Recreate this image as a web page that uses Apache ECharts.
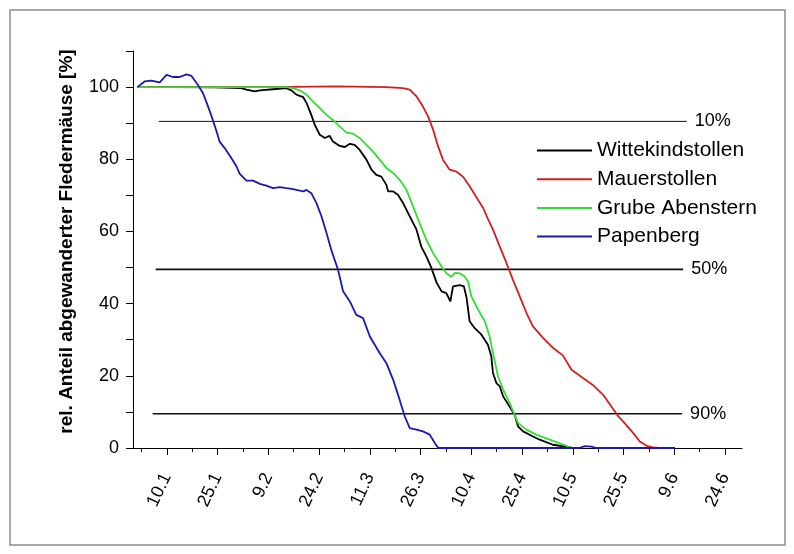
<!DOCTYPE html>
<html>
<head>
<meta charset="utf-8">
<script src="https://cdn.jsdelivr.net/npm/echarts@6/dist/echarts.min.js"></script>
<style>
html,body{margin:0;padding:0;background:#fff;}
#chart{width:794px;height:554px;}
</style>
</head>
<body>
<div id="chart"></div>
<script>
// ---- data (x = day of year, 10 = 10 January) ----
const tickDays = [10, 25, 40, 55, 70, 85, 100, 115, 130, 145, 160, 175];
const tickLabels = ['10.1', '25.1', '9.2', '24.2', '11.3', '26.3', '10.4', '25.4', '10.5', '25.5', '9.6', '24.6'];
const minorTickDays = [2.5, 17.5, 32.5, 47.5, 62.5, 77.5, 92.5, 107.5, 122.5, 137.5, 152.5, 167.5];

const seriesNames = ['Wittekindstollen', 'Mauerstollen', 'Grube Abenstern', 'Papenberg'];

const wittekindstollen = [
  [1.3,100],[12,100],[24,99.9],[32.0,99.7],[33.5,99.3],[36.0,98.8],[37.5,99.1],[41.4,99.4],[45.3,99.7],
  [46.8,99.1],[48.3,97.9],[50.3,97.2],[51.3,95.6],[52.7,92.3],[53.7,89.6],[55.2,86.8],[56.7,85.9],
  [58.1,86.5],[59.1,84.9],[61.1,83.7],[62.6,83.4],[64.1,84.3],[65.5,84.0],[67.0,82.6],[69.0,79.9],
  [70.5,77.1],[71.9,75.7],[73.4,75.2],[74.9,72.9],[75.4,71.1],[76.9,71.1],[78.3,70.2],[79.8,67.9],
  [81.8,64.2],[83.8,60.5],[85.2,55.8],[86.7,53.1],[88.2,49.9],[89.7,45.9],[91.2,43.4],[92.6,42.9],
  [93.8,40.6],[94.6,44.8],[96.6,45.1],[97.8,44.8],[98.6,41.6],[99.5,35.1],[101.0,33.2],[103.0,31.4],
  [104.9,28.6],[105.9,25.4],[106.4,20.8],[107.4,18.0],[108.4,17.1],[109.4,14.3],[111.3,11.5],
  [112.8,9.2],[113.8,6.0],[115.3,4.6],[118.2,3.2],[120.2,2.3],[124.1,0.9],[128.1,0.3],[130,0]
];

const mauerstollen = [
  [1.3,100],[20,100],[40,100],[60,100.2],[75,100],[79.8,99.7],[81.8,99.3],[83.8,97.4],[85.7,94.6],
  [87.2,91.9],[88.7,88.2],[90.2,83.5],[91.6,79.9],[93.6,77.1],[95.6,76.6],[97.5,75.2],[99.5,72.5],
  [101.5,69.5],[103.5,66.5],[104.9,63.5],[106.4,60.5],[108.4,55.8],[110.4,51.2],[112.3,46.6],
  [114.3,42.0],[116.3,37.4],[118.2,33.7],[121.2,30.5],[124.2,27.7],[127.1,25.6],[129.6,21.7],
  [133.0,19.4],[136.0,17.4],[138.9,14.8],[141.4,11.5],[143.4,8.8],[145.3,6.9],[147.8,4.2],
  [149.8,1.8],[151.8,0.6],[153.7,0.2],[155.7,0]
];

const grubeAbenstern = [
  [1.3,100],[15,100],[30,100],[45.3,100],[47.3,99.7],[49.3,99.1],[51.3,97.9],[53.2,96.0],[55.2,94.2],
  [57.2,92.3],[59.1,90.9],[61.1,89.1],[63.1,87.4],[65.0,87.1],[67.0,85.9],[69.0,84.0],[70.9,82.2],
  [72.9,79.9],[74.9,77.6],[76.9,76.2],[78.8,74.3],[80.8,71.6],[82.8,66.9],[84.7,62.3],[86.7,57.7],
  [88.7,54.0],[91.2,50.3],[92.6,48.5],[94.1,47.4],[95.1,48.5],[96.6,48.4],[98.0,47.5],[99.0,46.2],
  [100.0,42.0],[102.0,38.3],[104.0,35.1],[105.4,30.9],[106.4,26.3],[107.9,19.8],[109.4,16.2],
  [111.3,12.5],[112.8,9.2],[113.8,6.9],[116.3,5.1],[119.2,3.7],[123.2,2.3],[128.1,0.6],[129.1,0]
];

const papenberg = [
  [1.3,100],[3.5,101.6],[5.4,101.8],[7.9,101.3],[9.9,103.4],[11.8,102.8],[13.8,102.8],[15.8,103.5],
  [17.3,103.1],[19.2,100.6],[20.7,98.3],[22.2,94.6],[23.6,90.9],[24.7,87.7],[25.6,84.9],[27.1,83.1],
  [29.1,80.3],[30.6,78.0],[31.5,76.0],[33.5,74.1],[35.5,74.1],[37.5,73.2],[39.4,72.7],[41.4,72.0],
  [43.4,72.3],[45.3,72.0],[47.3,71.7],[50.3,71.1],[51.3,71.5],[52.7,70.6],[54.2,67.9],[55.7,64.2],
  [57.2,59.6],[58.6,54.9],[60.6,49.4],[62.1,43.4],[64.1,40.6],[66.0,36.9],[68.0,36.0],[70.0,30.9],
  [72.9,26.3],[74.9,23.5],[76.9,18.9],[78.8,13.4],[80.3,8.8],[81.8,5.5],[83.8,5.1],[85.7,4.6],
  [87.7,3.7],[89.2,1.4],[90.2,0],[132,0],[133.5,0.5],[135.5,0.4],[137,0],[160.2,0]
];

// horizontal reference lines (10 %, 50 %, 90 % migrated)
const refLevels = [90.5, 49.5, 9.5];
const refLabels = ['10%', '50%', '90%'];
const refStart = [7.6, 6.7, 5.8];
const refEnd = [163.7, 162.6, 162.3];

// ---- chart ----
const FONT = "'Liberation Sans', Arial, sans-serif";
const seriesData = [wittekindstollen, mauerstollen, grubeAbenstern, papenberg];
const seriesColors = ['#000000', '#d02020', '#33dd33', '#1a1aaa'];
const refWidths = [1, 1.8, 1.4];

const series = [];
refLevels.forEach((lvl, i) => {
  series.push({
    type: 'line',
    name: refLabels[i],
    data: [[refStart[i], lvl], [refEnd[i], lvl]],
    symbol: 'none',
    silent: true,
    lineStyle: { color: '#111', width: refWidths[i] },
    endLabel: {
      show: true, formatter: refLabels[i], distance: 8,
      fontSize: 18, color: '#000', fontFamily: FONT
    },
    z: 1
  });
});
seriesNames.forEach((name, i) => {
  series.push({
    type: 'line',
    name: name,
    data: seriesData[i],
    symbol: 'none',
    showSymbol: false,
    lineStyle: { color: seriesColors[i], width: 1.8 },
    itemStyle: { color: seriesColors[i] },
    z: 2 + i
  });
});

const chart = echarts.init(document.getElementById('chart'), null, { renderer: 'canvas' });
chart.setOption({
  animation: false,
  backgroundColor: '#ffffff',
  textStyle: { fontFamily: FONT },
  graphic: [{
    type: 'rect',
    shape: { x: 10, y: 10, width: 775, height: 535 },
    style: { fill: 'none', stroke: '#8c8c8c', lineWidth: 1.5 },
    silent: true
  }],
  grid: { left: 133, right: 52, top: 51, bottom: 106, outerBoundsMode: 'none' },
  legend: {
    data: seriesNames,
    orient: 'vertical',
    left: 537,
    top: 140,
    padding: 0,
    icon: 'rect',
    itemWidth: 55,
    itemHeight: 2,
    itemGap: 7.7,
    textStyle: { fontSize: 21, color: '#000', fontFamily: FONT },
    selectedMode: false
  },
  xAxis: [{
    type: 'value',
    min: 0,
    max: 180,
    axisLine: { show: true, onZero: false, lineStyle: { color: '#000', width: 1 } },
    axisTick: { show: true, customValues: tickDays, length: 7, lineStyle: { color: '#000', width: 1 } },
    axisLabel: {
      show: true,
      customValues: tickDays,
      formatter: v => { const k = tickDays.indexOf(v); return k >= 0 ? tickLabels[k] : ''; },
      rotate: 65,
      margin: 26,
      fontSize: 18,
      color: '#000',
      fontFamily: FONT
    },
    splitLine: { show: false }
  }, {
    type: 'value',
    min: 0,
    max: 180,
    position: 'bottom',
    axisLine: { show: false, onZero: false },
    axisTick: { show: true, customValues: minorTickDays, length: 4, lineStyle: { color: '#000', width: 1 } },
    axisLabel: { show: false },
    splitLine: { show: false }
  }],
  yAxis: {
    type: 'value',
    min: 0,
    max: 110,
    interval: 10,
    name: 'rel. Anteil abgewanderter Fledermäuse [%]',
    nameLocation: 'middle',
    nameGap: 57,
    nameTextStyle: { fontSize: 19, fontWeight: 'bold', color: '#000', fontFamily: FONT, padding: [0, 0, 0, 16] },
    axisLine: { show: true, lineStyle: { color: '#000', width: 1 } },
    axisTick: { show: true, length: 7, lineStyle: { color: '#000', width: 1 } },
    axisLabel: {
      formatter: v => (v % 20 === 0 && v <= 100) ? String(v) : '',
      margin: 14,
      fontSize: 18,
      color: '#000',
      fontFamily: FONT
    },
    splitLine: { show: false }
  },
  series: series
});
</script>
</body>
</html>
